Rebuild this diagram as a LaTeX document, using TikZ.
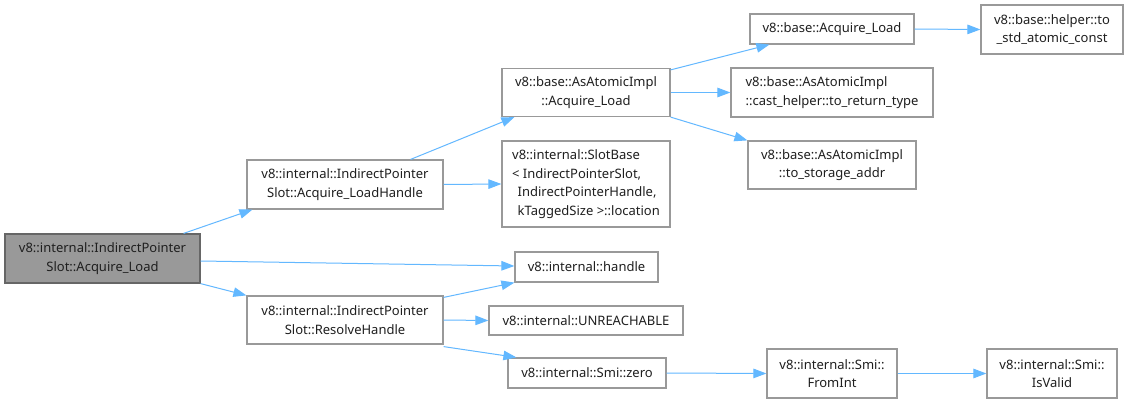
\documentclass[tikz,border=0pt]{standalone}
\usepackage{fontspec}
\setmainfont{Noto Sans}
\usetikzlibrary{arrows.meta,calc}
\definecolor{edgeblue}{HTML}{63B8FF}
\definecolor{boxgray}{HTML}{999999}
\definecolor{rootborder}{HTML}{666666}
\definecolor{rootfill}{HTML}{999999}
\definecolor{txt}{HTML}{1F1F1F}
\begin{document}
\begin{tikzpicture}[x=1pt,y=-1pt,
  box/.style={draw=boxgray, fill=white, line width=1.2pt, inner sep=0pt, align=center,
    font=\fontsize{13}{18.7}\selectfont, text=txt},
  rootbox/.style={box, draw=rootborder, fill=rootfill},
  edge/.style={draw=edgeblue, line width=1pt, -{Triangle[length=13pt,width=9.5pt]}}]
\useasboundingbox (0,0) rectangle (1129,403);
\fill[white] (0,0) rectangle (1129,403);
% nodes
\node[rootbox, minimum width=195pt, minimum height=49pt] (A) at (102.5,258.5) {v8::internal::IndirectPointer\\Slot::Acquire\_Load};
\node[box, minimum width=196pt, minimum height=49pt] (B) at (345,184.5) {v8::internal::IndirectPointer\\Slot::Acquire\_LoadHandle};
\node[box, minimum width=196pt, minimum height=48pt] (C) at (345,320) {v8::internal::IndirectPointer\\Slot::ResolveHandle};
\node[box, minimum width=168pt, minimum height=48pt] (D) at (586,92.5) {v8::base::AsAtomicImpl\\::Acquire\_Load};
\node[box, minimum width=168pt, minimum height=86pt, align=left] (E) at (586,184) {v8::internal::SlotBase\\< IndirectPointerSlot,\\\hphantom{ }\,IndirectPointerHandle,\\\hphantom{ }\,kTaggedSize >::location};
\node[box, minimum width=202pt, minimum height=49pt, align=left] (F) at (832,92.5) {v8::base::AsAtomicImpl\\::cast\_helper::to\_return\_type};
\node[box, minimum width=168pt, minimum height=48pt] (G) at (832,165) {v8::base::AsAtomicImpl\\::to\_storage\_addr};
\node[box, minimum width=164pt, minimum height=30pt] (H) at (832,29) {v8::base::Acquire\_Load};
\node[box, minimum width=142pt, minimum height=49pt] (I) at (1052,29.5) {v8::base::helper::to\\\_std\_atomic\_const};
\node[box, minimum width=143pt, minimum height=30pt] (J) at (586.5,267) {v8::internal::handle};
\node[box, minimum width=194pt, minimum height=29pt] (K) at (586,320.5) {v8::internal::UNREACHABLE};
\node[box, minimum width=158pt, minimum height=30pt] (L) at (587,373) {v8::internal::Smi::zero};
\node[box, minimum width=130pt, minimum height=49pt] (M) at (832,373.5) {v8::internal::Smi::\\FromInt};
\node[box, minimum width=130pt, minimum height=49pt] (N) at (1052,373.5) {v8::internal::Smi::\\IsValid};
% edges
\draw[edge] ([xshift=-17pt]A.north east) -- ([xshift=6pt]B.south west);
\draw[edge] ([yshift=-2.5pt]A.east) -- ([yshift=1pt]J.west);
\draw[edge] (A.south east) -- (C.north west);
\draw[edge] ([xshift=-33pt]B.north east) -- ([xshift=13pt]D.south west);
\draw[edge] (B.east) -- (E.west);
\draw[edge] ([yshift=-2pt]C.north east) -- (J.south west);
\draw[edge] (C.east) -- (K.west);
\draw[edge] ([yshift=-2pt]C.south east) -- ([xshift=9pt]L.north west);
\draw[edge] (L.east) -- (M.west);
\draw[edge] (M.east) -- (N.west);
\draw[edge] ([yshift=-2pt]D.north east) -- ([xshift=20pt]H.south west);
\draw[edge] (D.east) -- (F.west);
\draw[edge] (D.south east) -- (G.north west);
\draw[edge] (H.east) -- (I.west);
\end{tikzpicture}
\end{document}
